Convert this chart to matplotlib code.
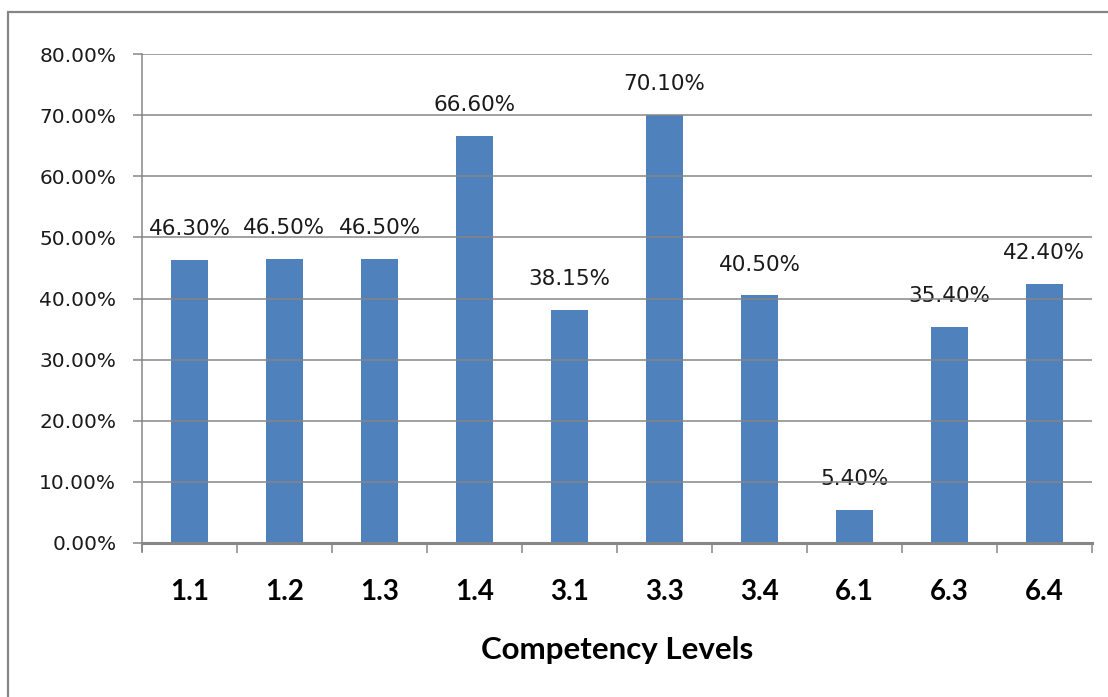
import matplotlib
matplotlib.use("Agg")
import matplotlib.pyplot as plt
from matplotlib.patches import Rectangle
import numpy as np

# data
levels = ["1.1", "1.2", "1.3", "1.4", "3.1", "3.3", "3.4", "6.1", "6.3", "6.4"]
percent = [46.30, 46.50, 46.50, 66.60, 38.15, 70.10, 40.50, 5.40, 35.40, 42.40]
yticks = [0, 10, 20, 30, 40, 50, 60, 70, 80]

grey = "#868686"
bar_color = "#4F81BD"

fig = plt.figure(figsize=(11.08, 6.97), dpi=100)
ax = fig.add_axes([142 / 1108, 1 - 543 / 697, 950 / 1108, 489 / 697])

# outer chart frame (only top and left edges visible)
fig.patches.append(Rectangle((8 / 1108, -0.05), 1.1, 1.05 - 11.5 / 697,
                             transform=fig.transFigure, fill=False,
                             edgecolor=grey, linewidth=1.6, zorder=0))

x = np.arange(len(levels))
ax.bar(x, percent, width=0.39, color=bar_color, zorder=2)

for xi, v in zip(x, percent):
    ax.annotate(f"{v:.2f}%", (xi, v), xytext=(0, 15), textcoords="offset points",
                ha="center", va="bottom", fontsize=15.5, family="DejaVu Sans",
                color="#1a1a1a", zorder=1)

ax.set_xlim(-0.5, len(levels) - 0.5)
ax.set_ylim(0, 80)
ax.set_yticks(yticks)
ax.set_yticklabels([f"{t:.2f}%" for t in yticks], fontsize=14.5, family="DejaVu Sans",
                   color="#1a1a1a")
ax.yaxis.grid(True, color=grey, linewidth=1.1, zorder=3)
ax.set_axisbelow(False)
for line in ax.get_ygridlines():
    line.set_zorder(3)
ax.tick_params(axis="y", length=6.5, width=1.1, color=grey, pad=12)

# category labels centred, tick marks at the boundaries
ax.set_xticks(x)
ax.set_xticklabels(levels, fontsize=20, family="Lato", fontweight="bold")
ax.tick_params(axis="x", which="major", length=0, pad=26)
ax.set_xticks(np.arange(len(levels) + 1) - 0.5, minor=True)
ax.tick_params(axis="x", which="minor", length=7, width=1.1, color=grey)
ax.set_xlabel("Competency Levels", fontsize=22.5, family="Lato", fontweight="bold",
              labelpad=22)

for side in ["top", "right"]:
    ax.spines[side].set_visible(False)
ax.spines["left"].set_color(grey)
ax.spines["left"].set_linewidth(1.1)
ax.spines["left"].set_bounds(-1.3, 80)
ax.spines["bottom"].set_color(grey)
ax.spines["bottom"].set_linewidth(2.2)
ax.spines["bottom"].set_zorder(4)

fig.savefig("out.png", dpi=100)
